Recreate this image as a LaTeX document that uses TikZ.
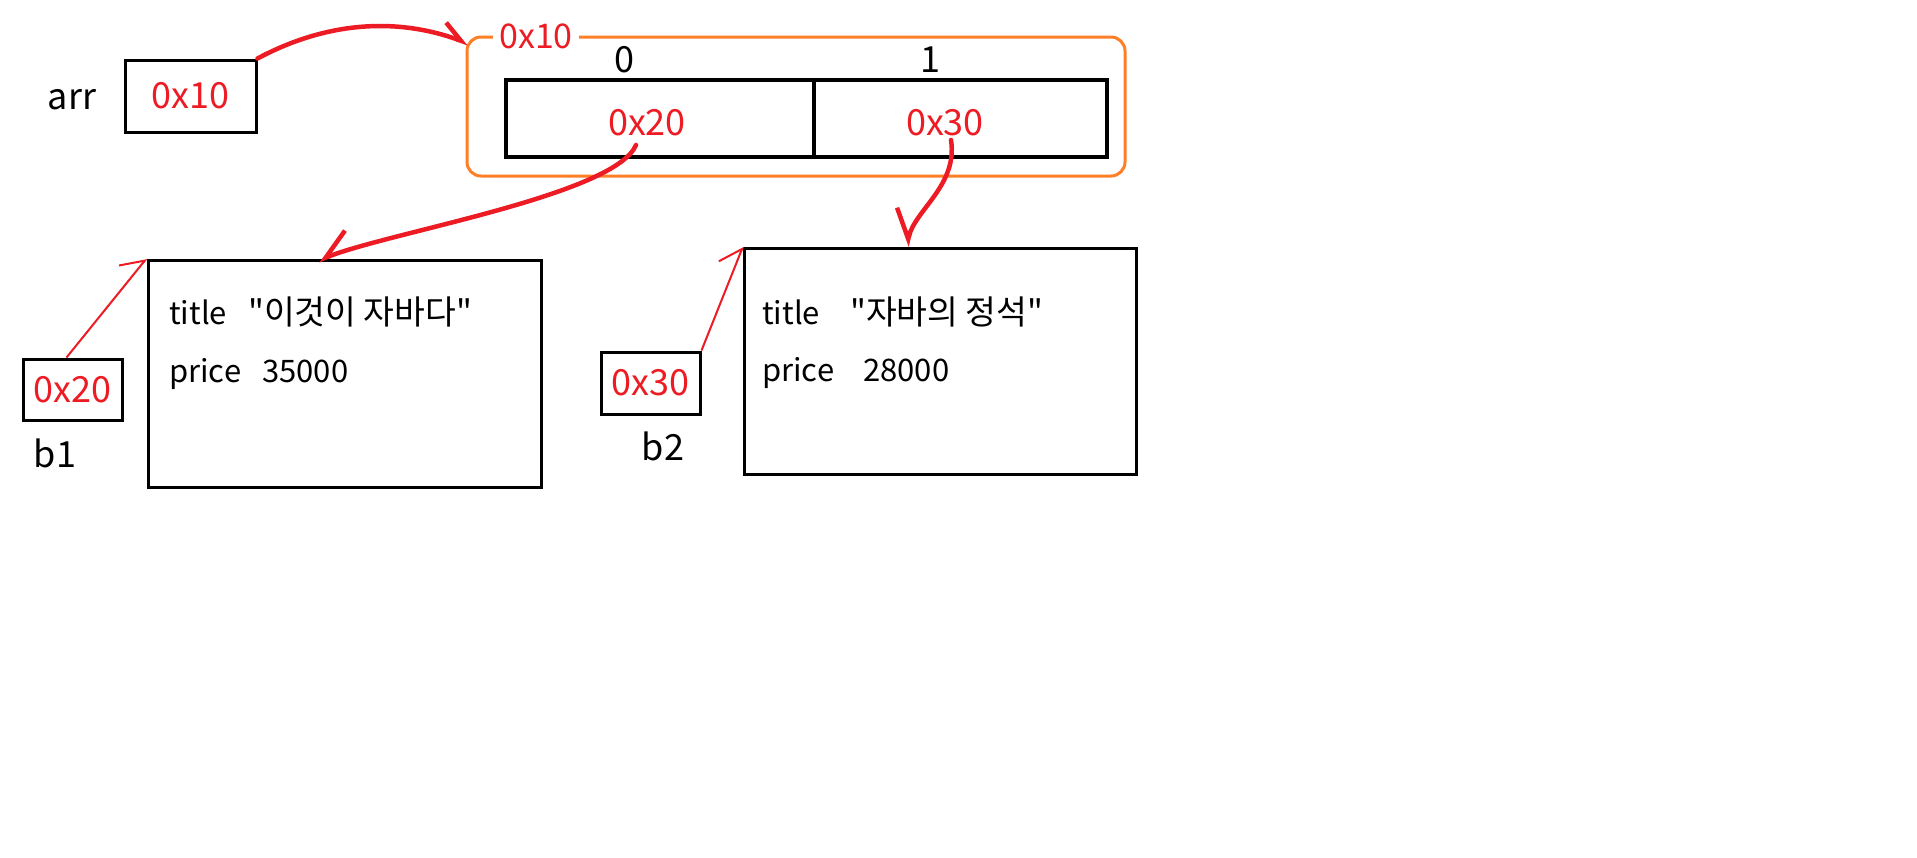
\documentclass[tikz,border=0pt]{standalone}
\usepackage{fontspec}
\setmainfont{Noto Sans CJK KR}[Ligatures=TeXOff]
\newfontfamily\krfont{Noto Sans CJK KR}[Ligatures=TeXOff, Scale=1.08]
\usetikzlibrary{arrows.meta}
\definecolor{pred}{HTML}{ED1C24}
\definecolor{porange}{HTML}{FF7F27}
\tikzset{
  biglbl/.style={font=\fontsize{36}{40}\selectfont, inner sep=0pt, anchor=base},
  redlbl/.style={text=pred, font=\fontsize{36}{40}\selectfont, inner sep=0pt},
  content/.style={font=\fontsize{31}{36}\selectfont, inner sep=0pt, anchor=base west},
  krcontent/.style={font=\fontsize{31}{36}\selectfont\krfont, inner sep=0pt, anchor=base west},
  thinbox/.style={draw=black, line width=3pt, inner sep=0pt},
  thickbox/.style={draw=black, line width=4.5pt, inner sep=0pt},
  bigarrowL/.style={draw=pred, line width=4.5pt, line cap=round, -{Straight Barb[harpoon, length=20pt, width=24pt]}},
  bigarrowR/.style={draw=pred, line width=4.5pt, line cap=round, -{Straight Barb[harpoon, swap, length=28pt, width=36pt]}},
  smallarrow/.style={draw=pred, line width=2pt, -{Straight Barb[harpoon, length=20pt, width=34pt]}},
}
\begin{document}
\begin{tikzpicture}[x=1pt,y=-1pt]
\useasboundingbox[fill=white] (0,0) rectangle (1917,857);

% arr variable
\node[biglbl] (arrlbl) at (72,109) {arr};
\node[thinbox, minimum width=131pt, minimum height=72pt, redlbl] (arrbox) at (190.5,96) {0x10};

% array object
\node[draw=porange, line width=3pt, rounded corners=14pt, minimum width=658pt, minimum height=139pt, inner sep=0pt] (outer) at (796,106.5) {};
\node[fill=white, text=pred, font=\fontsize{34}{38}\selectfont, inner xsep=6pt, inner ysep=2pt, anchor=base] (outerlbl) at (536,48) {0x10};
\node[biglbl] (idx0) at (624,72) {0};
\node[biglbl] (idx1) at (930,72) {1};
\node[thickbox, minimum width=308pt, minimum height=77pt] (c0) at (660,118.5) {};
\node[thickbox, minimum width=293pt, minimum height=77pt] (c1) at (960.5,118.5) {};
\node[redlbl, anchor=base] (c0txt) at (647,135) {0x20};
\node[redlbl, anchor=base] (c1txt) at (945,135) {0x30};

% b1
\node[thinbox, minimum width=99pt, minimum height=61pt, redlbl] (p20) at (72.5,389.5) {0x20};
\node[biglbl] (b1lbl) at (55,467) {b1};
\node[thinbox, minimum width=393pt, minimum height=227pt] (obj1) at (344.5,373.5) {};
\node[content] (t1k) at (169,324) {title};
\node[krcontent] (t1v) at (248,324) {"이것이 자바다"};
\node[content] (p1k) at (169,382) {price};
\node[content] (p1v) at (262,382) {35000};

% b2
\node[thinbox, minimum width=99pt, minimum height=62pt, redlbl] (p30) at (650.5,383) {0x30};
\node[biglbl] (b2lbl) at (663,460) {b2};
\node[thinbox, minimum width=392pt, minimum height=226pt] (obj2) at (940.5,361) {};
\node[content] (t2k) at (762,324) {title};
\node[krcontent] (t2v) at (850,324) {"자바의 정석"};
\node[content] (p2k) at (762,381) {price};
\node[content] (p2v) at (863,381) {28000};

% connector ends
\coordinate (s0) at ([shift={(-24,26.5)}]c0.center);
\coordinate (s1) at ([shift={(-9.5,21.5)}]c1.center);

% connectors
\draw[bigarrowL] (arrbox.north east) .. controls (320,25) and (390,15) .. ([shift={(3,8)}]outer.north west);
\draw[bigarrowR] (s0) .. controls (615,195) and (390,232) .. ([shift={(-26,2)}]obj1.north);
\draw[bigarrowR] (s1) .. controls (958,185) and (915,210) .. ([shift={(-34,0)}]obj2.north);
\draw[smallarrow] ([shift={(-6,0)}]p20.north) -- (obj1.north west);
\draw[smallarrow] (p30.north east) -- (obj2.north west);
\end{tikzpicture}
\end{document}
